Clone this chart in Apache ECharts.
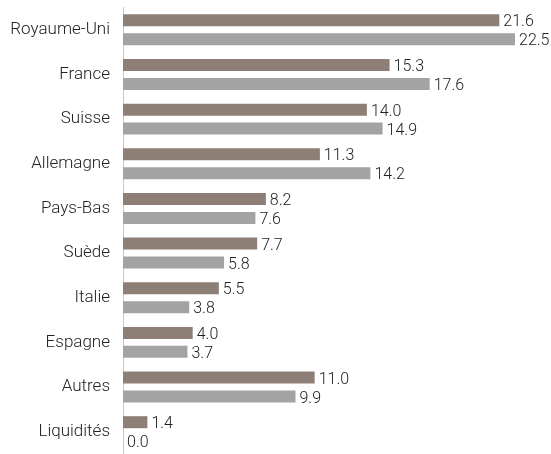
<!DOCTYPE html>
<html>
<head>
<meta charset="utf-8">
<script src="https://cdn.jsdelivr.net/npm/echarts@6/dist/echarts.min.js"></script>
<style>
html, body { margin: 0; padding: 0; background: #fff; }
#chart { width: 551px; height: 454px; }
</style>
</head>
<body>
<div id="chart"></div>
<script>
// pays, de haut en bas
const categories = ['Royaume-Uni', 'France', 'Suisse', 'Allemagne', 'Pays-Bas', 'Suède', 'Italie', 'Espagne', 'Autres', 'Liquidités']
const serieA = [21.6, 15.3, 14.0, 11.3, 8.2, 7.7, 5.5, 4.0, 11.0, 1.4]
const serieB = [22.5, 17.6, 14.9, 14.2, 7.6, 5.8, 3.8, 3.7, 9.9, 0.0]

const font = 'Roboto, sans-serif'

let chart = echarts.init(document.getElementById('chart'))

function barLabel() {
    return {
        show: true,
        position: 'right',
        distance: 4,
        offset: [0, 2],
        color: '#222',
        fontFamily: font,
        fontWeight: 300,
        fontSize: 16,
        formatter: p => p.value.toFixed(1)
    }
}

let option = {
    animation: false,
    grid: { left: 123, top: 7.5, width: 392, height: 453 },
    xAxis: {
        type: 'value',
        min: 0,
        max: 22.5,
        show: false
    },
    yAxis: {
        type: 'category',
        data: categories,
        inverse: true,
        axisLine: { show: true, lineStyle: { color: '#c8c8c8', width: 1 } },
        axisTick: { show: false },
        axisLabel: { color: '#222', fontFamily: font, fontWeight: 300, fontSize: 17, margin: 13, padding: [4, 0, 0, 0] }
    },
    series: [
        {
            type: 'bar',
            data: serieA,
            barWidth: 12,
            barGap: '58%',
            itemStyle: { color: '#8d7f76' },
            label: barLabel()
        },
        {
            type: 'bar',
            data: serieB,
            barWidth: 12,
            itemStyle: { color: '#a3a3a3' },
            label: barLabel()
        }
    ]
}
chart.setOption(option)
</script>
</body>
</html>
